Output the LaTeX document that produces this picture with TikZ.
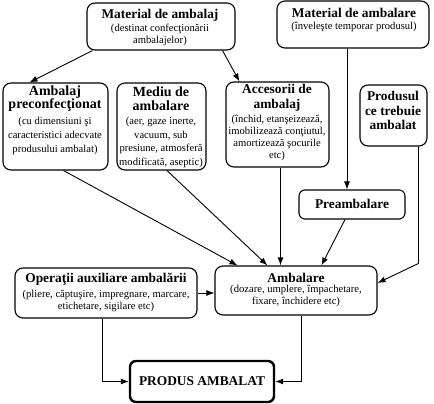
\documentclass[tikz,border=0pt]{standalone}
\usepackage{fontspec}
\setmainfont{Liberation Serif}
\usetikzlibrary{arrows.meta,calc}
\tikzset{
  box/.style={draw, rounded corners=8pt, line width=1.1pt, inner sep=0pt},
  ttl/.style={font=\fontsize{13.4}{14.5}\selectfont\bfseries, align=center, inner sep=0pt},
  sub/.style={font=\fontsize{10.6}{12}\selectfont, align=center, inner sep=0pt},
  arr/.style={-{Latex[length=8pt,width=6pt]}, line width=0.9pt},
}
\begin{document}
\begin{tikzpicture}[x=1pt,y=-1pt]
\useasboundingbox (0,0) rectangle (434,404);
% boxes
\node[box, minimum width=148pt, minimum height=47pt] (matA) at (161,26.5) {};
\node[box, minimum width=152pt, minimum height=47pt] (matB) at (353,24.5) {};
\node[box, minimum width=105pt, minimum height=87pt] (pc) at (55.5,126.5) {};
\node[box, minimum width=89pt, minimum height=87pt] (md) at (161.5,126.5) {};
\node[box, minimum width=103pt, minimum height=85pt] (ac) at (277.5,124.5) {};
\node[box, minimum width=67pt, minimum height=61pt] (prod) at (393.5,115.5) {};
\node[box, minimum width=106pt, minimum height=29pt, rounded corners=6pt] (pre) at (352,204.5) {};
\node[box, minimum width=182pt, minimum height=50pt] (op) at (106,293) {};
\node[box, minimum width=162pt, minimum height=49pt] (amb) at (296,290.5) {};
\node[box, minimum width=144pt, minimum height=41pt, line width=2.4pt, rounded corners=6pt] (fin) at (202,381.5) {};
% texts
\node[ttl] (tA1) at (160,15) {Material de ambalaj};
\node[sub] (tA2) at (160,35) {(destinat confecţionării\\ambalajelor)};
\node[ttl] (tB1) at (354,13) {Material de ambalare};
\node[sub] (tB2) at (354,26.5) {(înveleşte temporar produsul)};
\node[ttl, font=\fontsize{14}{13.5}\selectfont\bfseries] (tpc1) at (55,98.5) {Ambalaj\\preconfecţionat};
\node[sub, font=\fontsize{10.6}{14}\selectfont] (tpc2) at (55,136) {(cu dimensiuni şi\\caracteristici adecvate\\produsului ambalat)};
\node[ttl, font=\fontsize{14}{13.5}\selectfont\bfseries] (tmd1) at (161,98.5) {Mediu de\\ambalare};
\node[sub, font=\fontsize{10.6}{13.7}\selectfont] (tmd2) at (161,142.5) {(aer, gaze inerte,\\vacuum, sub\\presiune, atmosferă\\modificată, aseptic)};
\node[ttl, font=\fontsize{13.4}{15}\selectfont\bfseries] (tac1) at (277,97.5) {Accesorii de\\ambalaj};
\node[sub] (tac2) at (277,138) {(închid, etanşeizează,\\imobilizează conţiutul,\\amortizează şocurile\\etc)};
\node[ttl] (tprod) at (393,110.5) {Produsul\\ce trebuie\\ambalat};
\node[ttl] (tpre) at (352,204) {Preambalare};
\node[ttl] (top1) at (106,279) {Operaţii auxiliare ambalării};
\node[sub] (top2) at (106,301) {(pliere, căptuşire, impregnare, marcare,\\etichetare, sigilare etc)};
\node[ttl] (tamb1) at (296,278) {Ambalare};
\node[sub] (tamb2) at (296,296) {(dozare, umplere, împachetare,\\fixare, închidere etc)};
\node[ttl] (tfin) at (202,381.5) {PRODUS AMBALAT};
% connectors
\draw[arr] ([xshift=6pt]matA.south west) -- ([xshift=27pt]pc.north west);
\draw[arr] ([xshift=-13pt]matA.south east) -- ([xshift=14pt]ac.north west);
\draw[arr] ([xshift=-6pt]matB.south) -- ([xshift=-6pt]matB.south |- pre.north);
\draw[arr] ([xshift=8pt]pc.south) -- ([xshift=23pt]amb.north west);
\draw[arr] ([xshift=5.5pt]md.south) -- ([xshift=53pt]amb.north west);
\draw[arr] ([xshift=3pt]ac.south) -- ([xshift=3pt]ac.south |- amb.north);
\draw[arr] ([xshift=-7pt]pre.south) -- ([xshift=107pt]amb.north west);
\coordinate (corner) at ([xshift=25pt,yshift=2pt]prod.south |- amb.north);
\draw[arr] ([xshift=25pt]prod.south) -- (corner) -- ([yshift=7.5pt]amb.east);
\draw[arr] (op.east) -- (op.east -| amb.west);
\draw[arr] ([xshift=-4pt]op.south) |- (fin.west);
\draw[arr] ([xshift=5pt]amb.south) |- (fin.east);
\end{tikzpicture}
\end{document}
